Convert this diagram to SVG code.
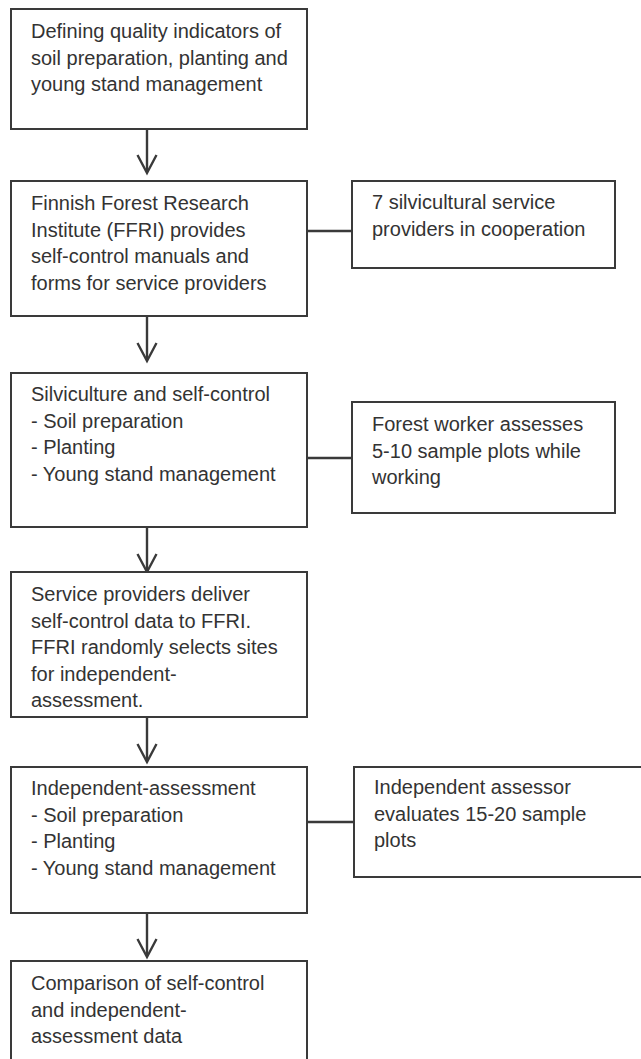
<svg xmlns="http://www.w3.org/2000/svg" width="641" height="1059" viewBox="0 0 641 1059">
<style>
.box{fill:#fff;stroke:#3a3a3a;stroke-width:2}
.t{font-family:"Liberation Sans",Arial,sans-serif;font-size:20px;fill:#333}
.c{stroke:#3a3a3a;stroke-width:2.4;fill:none}
.ah{stroke:#3a3a3a;stroke-width:2.4;fill:none;stroke-linejoin:miter}
</style>
<rect width="641" height="1059" fill="#fff"/>
<g id="connectors">
<line class="c" x1="147" y1="129" x2="147" y2="172"/>
<polyline class="ah" points="137.5,155 147,173 156.5,155"/>
<line class="c" x1="147" y1="316" x2="147" y2="360"/>
<polyline class="ah" points="137.5,343 147,361 156.5,343"/>
<line class="c" x1="147" y1="527" x2="147" y2="571"/>
<polyline class="ah" points="137.5,554 147,572 156.5,554"/>
<line class="c" x1="147" y1="717" x2="147" y2="761"/>
<polyline class="ah" points="137.5,744 147,762 156.5,744"/>
<line class="c" x1="147" y1="913" x2="147" y2="956"/>
<polyline class="ah" points="137.5,939 147,957 156.5,939"/>
<line class="c" x1="307" y1="231" x2="352" y2="231"/>
<line class="c" x1="307" y1="458" x2="352" y2="458"/>
<line class="c" x1="307" y1="822" x2="354" y2="822"/>
</g>
<g id="n1">
<rect class="box" x="11" y="9" width="296" height="120"/>
<text class="t" x="31" y="38">Defining quality indicators of</text>
<text class="t" x="31" y="64.5">soil preparation, planting and</text>
<text class="t" x="31" y="91">young stand management</text>
</g>
<g id="n2">
<rect class="box" x="11" y="181" width="296" height="135"/>
<text class="t" x="31" y="210">Finnish Forest Research</text>
<text class="t" x="31" y="236.5">Institute (FFRI) provides</text>
<text class="t" x="31" y="263">self-control manuals and</text>
<text class="t" x="31" y="289.5">forms for service providers</text>
</g>
<g id="nA">
<rect class="box" x="352" y="181" width="263" height="87"/>
<text class="t" x="372" y="209">7 silvicultural service</text>
<text class="t" x="372" y="235.5">providers in cooperation</text>
</g>
<g id="n3">
<rect class="box" x="11" y="373" width="296" height="154"/>
<text class="t" x="31" y="401">Silviculture and self-control</text>
<text class="t" x="31" y="427.5">- Soil preparation</text>
<text class="t" x="31" y="454">- Planting</text>
<text class="t" x="31" y="480.5">- Young stand management</text>
</g>
<g id="nB">
<rect class="box" x="352" y="402" width="263" height="111"/>
<text class="t" x="372" y="431">Forest worker assesses</text>
<text class="t" x="372" y="457.5">5-10 sample plots while</text>
<text class="t" x="372" y="484">working</text>
</g>
<g id="n4">
<rect class="box" x="11" y="572" width="296" height="145"/>
<text class="t" x="31" y="601">Service providers deliver</text>
<text class="t" x="31" y="627.5">self-control data to FFRI.</text>
<text class="t" x="31" y="654">FFRI randomly selects sites</text>
<text class="t" x="31" y="680.5">for independent-</text>
<text class="t" x="31" y="707">assessment.</text>
</g>
<g id="n5">
<rect class="box" x="11" y="767" width="296" height="146"/>
<text class="t" x="31" y="795">Independent-assessment</text>
<text class="t" x="31" y="821.5">- Soil preparation</text>
<text class="t" x="31" y="848">- Planting</text>
<text class="t" x="31" y="874.5">- Young stand management</text>
</g>
<g id="nC">
<rect class="box" x="354" y="767" width="300" height="110"/>
<text class="t" x="374" y="794">Independent assessor</text>
<text class="t" x="374" y="820.5">evaluates 15-20 sample</text>
<text class="t" x="374" y="847">plots</text>
</g>
<g id="n6">
<rect class="box" x="11" y="961" width="296" height="120"/>
<text class="t" x="31" y="990">Comparison of self-control</text>
<text class="t" x="31" y="1016.5">and independent-</text>
<text class="t" x="31" y="1043">assessment data</text>
</g>
</svg>
